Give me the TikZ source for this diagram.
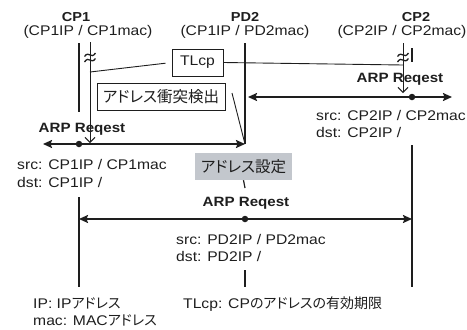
\documentclass[tikz,border=0pt]{standalone}
\usepackage{fontspec}
\setmainfont{Liberation Sans}[FakeStretch=1.12]
\newfontfamily\jp{Noto Sans CJK JP}[RawFeature=+palt]
\usetikzlibrary{arrows.meta}

\definecolor{ink}{HTML}{1E1E1E}
\definecolor{setbox}{HTML}{C3C7CD}

\tikzset{
  txt/.style={inner sep=0pt, text=ink, font=\fontsize{14}{16}\selectfont},
  title/.style={inner sep=0pt, text=ink, font=\bfseries\fontsize{13}{15}\selectfont},
  arplabel/.style={inner sep=0pt, text=ink, font=\bfseries\fontsize{13.5}{16}\selectfont},
  life/.style={draw=ink, line width=1.2pt},
  msg/.style={draw=ink, line width=2.4pt,
    {Stealth[length=9pt,width=8pt,inset=1.5pt]}-{Stealth[length=9pt,width=8pt,inset=1.5pt]}},
  timer/.style={draw=ink, line width=1pt, -{Straight Barb[length=5pt,width=10pt,line width=1pt]}},
  thin/.style={draw=ink, line width=0.9pt},
  notebox/.style={draw=ink, line width=1pt, inner sep=0pt, text=ink,
    font=\fontsize{14}{16}\selectfont},
  dot/.style={circle, fill=ink, inner sep=0pt, minimum size=6.5pt},
  brk/.pic={
    \draw[ink, line width=1.3pt] (-5.5,-1) .. controls (-1,-7.5) and (1,2.5) .. (5.5,-4.5);
    \draw[ink, line width=1.3pt] (-5.5,4.5) .. controls (-1,-2.5) and (1,7.5) .. (5.5,1);
  }
}

\begin{document}
\begin{tikzpicture}[x=1pt,y=-1pt]
\useasboundingbox (0,0) rectangle (467,330);

% ---- headers
\node[title, anchor=base] (t1) at (76,21.5) {CP1};
\node[txt, anchor=base] (s1) at (88,35.5) {(CP1IP / CP1mac)};
\node[title, anchor=base] (t2) at (245,21.5) {PD2};
\node[txt, anchor=base] (s2) at (245,35.5) {(CP1IP / PD2mac)};
\node[title, anchor=base] (t3) at (416,21.5) {CP2};
\node[txt, anchor=base] (s3) at (402,35.5) {(CP2IP / CP2mac)};

% ---- lifeline points
\coordinate (c1top) at (79,43);   \coordinate (c1a) at (79,112);
\coordinate (c1b) at (79,197);    \coordinate (c1bot) at (79,287);
\coordinate (pdtop) at (245,43);  \coordinate (pdin) at (245,144);
\coordinate (pdc) at (245,188);
\coordinate (pdd) at (245,270);   \coordinate (pdbot) at (245,287);
\coordinate (c2top) at (412,48);  \coordinate (c2a) at (412,62);
\coordinate (c2b) at (412,145);   \coordinate (c2bot) at (412,287);

% timers
\coordinate (tm1top) at (90,42);  \coordinate (tm1end) at (90,143);
\coordinate (tm1tap) at (90,72);
\coordinate (tm2top) at (403,43); \coordinate (tm2end) at (403,93);
\coordinate (tm2tap) at (403,65);

% ---- lifelines
\draw[life] (c1top) -- (c1a);
\draw[life] (c1b) -- (c1bot);
\draw[life] (pdtop) -- (pdin);
\draw[life] (pdd) -- (pdbot);
\draw[life] (c2top) -- (c2a);
\draw[life] (c2b) -- (c2bot);

% ---- timers with break marks
\draw[timer] (tm1top) -- (tm1end);
\draw[timer] (tm2top) -- (tm2end);
\pic at (90,57.5) {brk};
\pic at (403,57.5) {brk};

% ---- notes
\node[notebox, minimum width=51pt, minimum height=27pt] (tl) at (197.5,62.5) {TLcp};
\node[notebox, minimum width=128pt, minimum height=27pt] (det) at (161,96.5)
  {\jp\fontsize{15.5}{17}\selectfont アドレス衝突検出};
\node[inner sep=0pt, fill=setbox, minimum width=97pt, minimum height=27pt,
  text=ink, font=\jp\fontsize{15.5}{17}\selectfont] (set) at (243.5,166.5) {アドレス設定};

\draw[thin, shorten >=6pt] (tm1tap) -- (tl.west);
\draw[thin] (tl.east) -- (tm2tap);
\coordinate (detfoot) at (232,93);
\draw[thin] (detfoot) -- (pdin);
\draw[life] (set.south) -- (pdc);

% ---- ARP request from CP1
\coordinate (m1l) at (43,144);
\draw[msg] (m1l) -- (pdin);
\node[dot] (d1) at (79,144) {};
\node[arplabel, anchor=base] (l1) at (82,132) {ARP Reqest};
\node[txt, anchor=base west] (src1) at (17,169.5) {src: CP1IP / CP1mac};
\node[txt, anchor=base west] (dst1) at (17,187) {dst: CP1IP /};

% ---- ARP request from CP2
\coordinate (m2l) at (248,97);
\coordinate (m2r) at (452,97);
\draw[msg] (m2l) -- (m2r);
\node[dot] (d2) at (412,97) {};
\node[arplabel, anchor=base] (l2) at (400,82) {ARP Reqest};
\node[txt, anchor=base west] (src2) at (316,120) {src: CP2IP / CP2mac};
\node[txt, anchor=base west] (dst2) at (316,137.5) {dst: CP2IP /};

% ---- ARP request from PD2
\coordinate (m3l) at (79,219);
\coordinate (m3r) at (412,219);
\draw[msg] (m3l) -- (m3r);
\node[dot] (d3) at (245,219) {};
\node[arplabel, anchor=base] (l3) at (246,206) {ARP Reqest};
\node[txt, anchor=base west] (src3) at (176,244) {src: PD2IP / PD2mac};
\node[txt, anchor=base west] (dst3) at (176,261) {dst: PD2IP /};

% ---- legend
\node[txt, anchor=base west] (k1) at (33,308) {IP: IP{\jp アドレス}};
\node[txt, anchor=base west] (k2) at (33,325) {mac: MAC{\jp アドレス}};
\node[txt, anchor=base west] (k3) at (183,308) {TLcp: CP{\jp のアドレスの有効期限}};
\end{tikzpicture}
\end{document}
